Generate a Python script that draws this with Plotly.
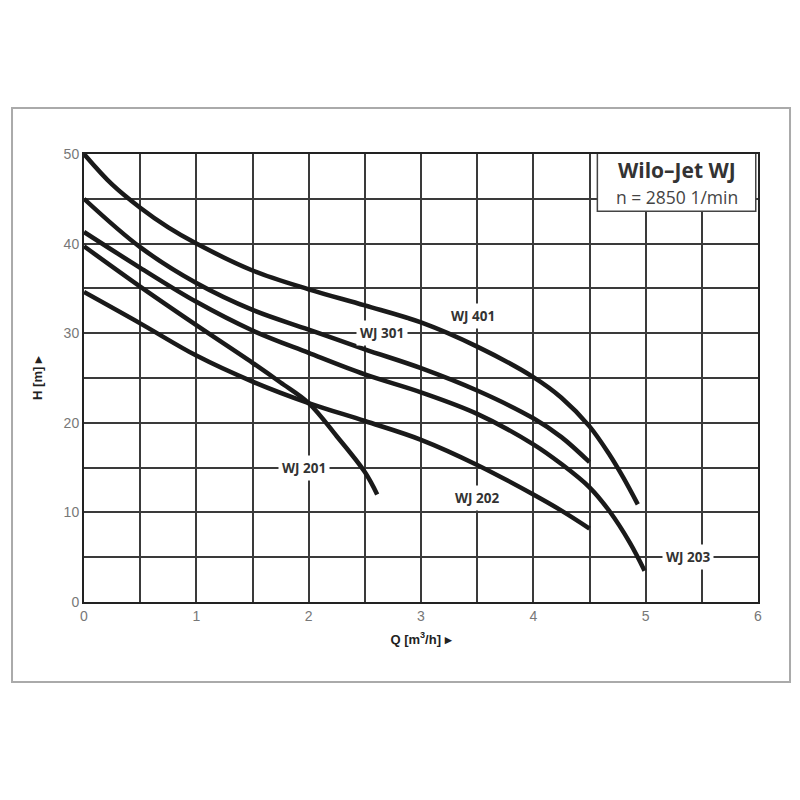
import plotly.graph_objects as go

# ---- data ----
q_401 = [0, 0.25, 0.5, 0.75, 1.0, 1.5, 2.0, 2.5, 3.0, 3.5, 4.0, 4.25, 4.5, 4.68, 4.8, 4.93]
h_401 = [50, 46.6, 44.0, 41.8, 40.0, 37.0, 34.9, 33.1, 31.2, 28.5, 25.1, 22.8, 19.6, 16.4, 13.9, 10.9]

q_301 = [0, 0.5, 1.0, 1.5, 2.0, 2.5, 3.0, 3.5, 4.0, 4.25, 4.5]
h_301 = [45, 39.6, 35.6, 32.6, 30.4, 28.2, 26.1, 23.6, 20.5, 18.4, 15.6]

q_203 = [0, 0.5, 1.0, 1.5, 2.0, 2.5, 3.0, 3.5, 4.0, 4.25, 4.5, 4.68, 4.86, 4.99]
h_203 = [41.3, 37.3, 33.5, 30.3, 27.8, 25.4, 23.4, 21.0, 17.6, 15.4, 12.8, 10.1, 6.6, 3.5]

q_201 = [0, 0.5, 1.0, 1.5, 1.75, 2.0, 2.25, 2.5, 2.61]
h_201 = [39.7, 35.2, 30.9, 26.7, 24.5, 22.2, 18.5, 14.5, 12.0]

q_202 = [0, 0.5, 1.0, 1.5, 2.0, 2.5, 3.0, 3.5, 4.0, 4.25, 4.5]
h_202 = [34.6, 31.1, 27.5, 24.6, 22.2, 20.2, 18.1, 15.3, 12.0, 10.2, 8.2]

curve_names = ["WJ 401", "WJ 301", "WJ 203", "WJ 201", "WJ 202"]
label_q = [3.46, 2.65, 5.38, 1.96, 3.5]
label_h = [31.9, 30.0, 5.0, 15.0, 11.6]

x_ticks = [0, 1, 2, 3, 4, 5, 6]
y_ticks = [0, 10, 20, 30, 40, 50]

title_line1 = "Wilo–Jet WJ"
title_line2 = "n = 2850 1/min"

fig = go.Figure()
for q, h, name in zip([q_401, q_301, q_203, q_201, q_202],
                      [h_401, h_301, h_203, h_201, h_202], curve_names):
    fig.add_trace(go.Scatter(x=q, y=h, mode="lines", name=name,
                             line=dict(color="#1a1a1a", width=4.5, shape="spline", smoothing=1.0),
                             showlegend=False, hoverinfo="skip"))

grid_col = "#3a3a3a"
tick_font = dict(family="Liberation Sans Narrow, Liberation Sans, Arial", size=14, color="#777")
fig.update_xaxes(range=[0, 6], tickvals=x_ticks, ticktext=[str(v) for v in x_ticks],
                 showgrid=True, gridcolor=grid_col, gridwidth=1.6,
                 minor=dict(dtick=0.5, showgrid=True, gridcolor=grid_col, gridwidth=1.6),
                 showline=True, linecolor="#222", linewidth=2, mirror=True,
                 zeroline=False, ticks="", tickfont=tick_font,
                 title=dict(text="<b>Q [m<sup>3</sup>/h] ▸</b>", standoff=12,
                            font=dict(family="Liberation Sans Narrow, Liberation Sans, Arial", size=13, color="#222")))
fig.update_yaxes(range=[0, 50], tickvals=y_ticks, ticktext=[str(v) for v in y_ticks],
                 showgrid=True, gridcolor=grid_col, gridwidth=1.6,
                 minor=dict(dtick=5, showgrid=True, gridcolor=grid_col, gridwidth=1.6),
                 showline=True, linecolor="#222", linewidth=2, mirror=True,
                 zeroline=False, ticks="", tickfont=tick_font,
                 title=dict(text="<b>H [m] ▸</b>", standoff=18,
                            font=dict(family="Liberation Sans Narrow, Liberation Sans, Arial", size=13, color="#222")))

for name, lq, lh in zip(curve_names, label_q, label_h):
    fig.add_annotation(x=lq, y=lh, xref="x", yref="y", text="<b>" + name + "</b>",
                       showarrow=False, bgcolor="white", borderpad=3,
                       font=dict(family="Open Sans, Noto Sans, Arial", size=13.5, color="#333"))

# title box
fig.add_shape(type="rect", xref="x", yref="y", x0=4.57, x1=5.98, y0=43.6, y1=50.2,
              fillcolor="white", line=dict(color="#444", width=1.5), layer="above")
fig.add_annotation(x=5.275, y=48.2, xref="x", yref="y", text="<b>" + title_line1 + "</b>",
                   showarrow=False, font=dict(family="Open Sans, Noto Sans, Arial", size=21, color="#333"))
fig.add_annotation(x=5.275, y=45.2, xref="x", yref="y", text=title_line2,
                   showarrow=False, font=dict(family="Open Sans, Noto Sans, Arial", size=17.5, color="#444"))

# outer frame
fig.add_shape(type="rect", xref="paper", yref="paper", x0=-0.1068, x1=1.0475, y0=-0.1786, y1=1.1027,
              line=dict(color="#aaa", width=2), fillcolor="rgba(0,0,0,0)", layer="below")

fig.update_layout(width=800, height=800, margin=dict(l=76, r=50, t=146, b=206),
                  paper_bgcolor="white", plot_bgcolor="white")

fig.write_html("out.html")
